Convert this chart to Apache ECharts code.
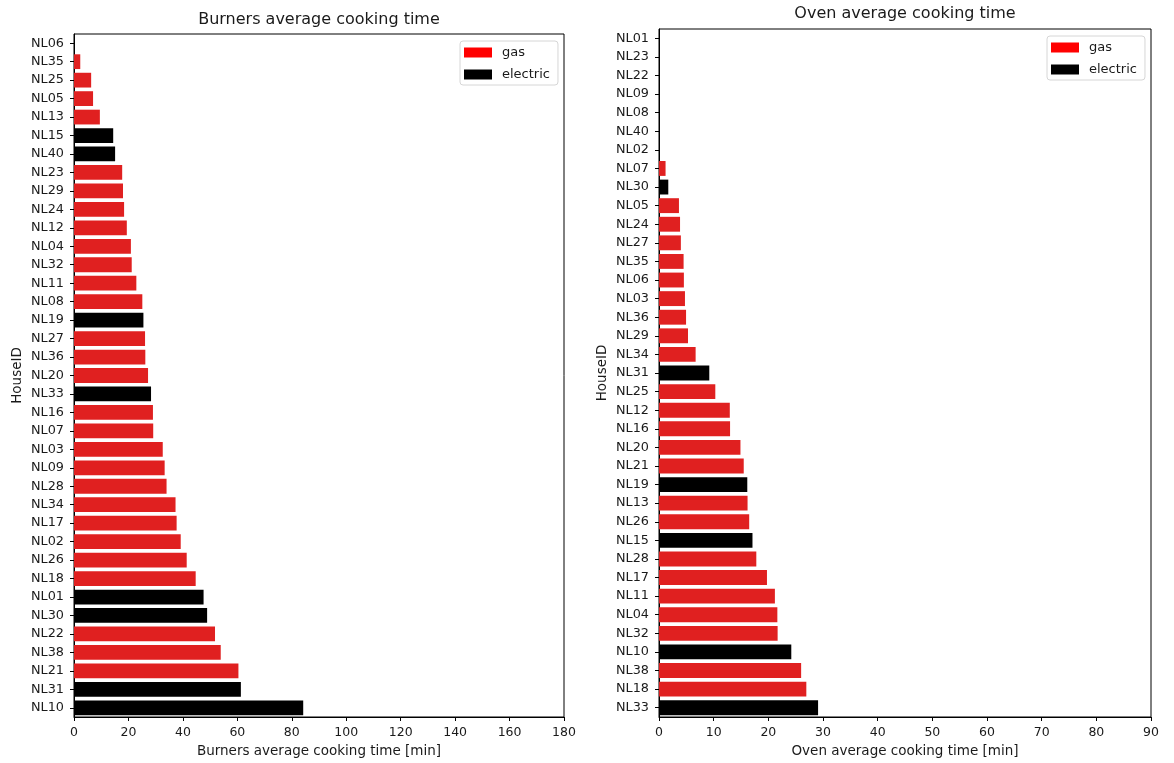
<!DOCTYPE html>
<html>
<head>
<meta charset="utf-8">
<title>Average cooking time per house</title>
<script src="https://cdn.jsdelivr.net/npm/echarts@6/dist/echarts.min.js"></script>
<style>
  html, body { margin: 0; padding: 0; background: #fff; }
  #chart { width: 1174px; height: 763px; }
</style>
</head>
<body>
<div id="chart"></div>
<script>
// Houses with an electric stove; every other house cooks on gas.
const electricHouses = ['NL01', 'NL10', 'NL15', 'NL19', 'NL30', 'NL31', 'NL33', 'NL40'];

// Burners: houses in display order (top to bottom) and average time in minutes.
const burnerHouses = ['NL06', 'NL35', 'NL25', 'NL05', 'NL13', 'NL15', 'NL40', 'NL23', 'NL29', 'NL24',
  'NL12', 'NL04', 'NL32', 'NL11', 'NL08', 'NL19', 'NL27', 'NL36', 'NL20', 'NL33', 'NL16', 'NL07',
  'NL03', 'NL09', 'NL28', 'NL34', 'NL17', 'NL02', 'NL26', 'NL18', 'NL01', 'NL30', 'NL22', 'NL38',
  'NL21', 'NL31', 'NL10'];
const burnerMinutes = [0, 2.3, 6.3, 7.0, 9.5, 14.4, 15.1, 17.7, 18.0, 18.4,
  19.4, 20.9, 21.2, 22.9, 25.1, 25.5, 26.1, 26.2, 27.2, 28.3, 29.0, 29.1,
  32.6, 33.3, 34.0, 37.3, 37.7, 39.2, 41.4, 44.7, 47.6, 48.9, 51.8, 53.9,
  60.4, 61.3, 84.2];

// Oven: houses in display order (top to bottom) and average time in minutes.
const ovenHouses = ['NL01', 'NL23', 'NL22', 'NL09', 'NL08', 'NL40', 'NL02', 'NL07', 'NL30', 'NL05',
  'NL24', 'NL27', 'NL35', 'NL06', 'NL03', 'NL36', 'NL29', 'NL34', 'NL31', 'NL25', 'NL12', 'NL16',
  'NL20', 'NL21', 'NL19', 'NL13', 'NL26', 'NL15', 'NL28', 'NL17', 'NL11', 'NL04', 'NL32', 'NL10',
  'NL38', 'NL18', 'NL33'];
const ovenMinutes = [0, 0, 0, 0, 0, 0, 0, 1.2, 1.7, 3.65,
  3.85, 4.0, 4.5, 4.55, 4.75, 4.95, 5.3, 6.7, 9.2, 10.3, 12.95, 13.0,
  14.9, 15.5, 16.15, 16.2, 16.5, 17.1, 17.8, 19.75, 21.2, 21.65, 21.7, 24.2,
  26.0, 26.95, 29.1];

const burnerTicks = { min: 0, max: 180, interval: 20 };
const ovenTicks = { min: 0, max: 90, interval: 10 };

const GAS_BAR = '#e02020';
const GAS_KEY = '#ff0000';
const ELECTRIC = '#000000';
const FONT = 'DejaVu Sans';
const INK = '#1a1a1a';

// Split one panel's values into a gas and an electric series (the other stays empty).
function splitByType(houses, minutes, type) {
  return houses.map((h, i) => {
    const isElectric = electricHouses.includes(h);
    return (type === 'electric') === isElectric ? minutes[i] : '-';
  });
}

function valueAxis(idx, ticks, name) {
  return {
    type: 'value', gridIndex: idx,
    min: ticks.min, max: ticks.max, interval: ticks.interval,
    name: name, nameLocation: 'middle', nameGap: 27,
    nameTextStyle: { fontFamily: FONT, fontSize: 13.5, color: INK },
    axisLine: { show: true, lineStyle: { color: '#000', width: 1 } },
    axisTick: { show: true, length: 4, lineStyle: { color: '#000' } },
    axisLabel: { fontFamily: FONT, fontSize: 12.5, color: INK, margin: 9 },
    splitLine: { show: false }
  };
}

function categoryAxis(idx, houses) {
  return {
    type: 'category', gridIndex: idx, data: houses, inverse: true,
    name: 'HouseID', nameLocation: 'middle', nameGap: 50,
    nameTextStyle: { fontFamily: FONT, fontSize: 13.5, color: INK },
    axisLine: { show: true, lineStyle: { color: '#000', width: 1 } },
    axisTick: { show: true, length: 4, alignWithLabel: true, lineStyle: { color: '#000' } },
    axisLabel: { fontFamily: FONT, fontSize: 12.8, color: INK, margin: 10, interval: 0 }
  };
}

function barSeries(idx, name, data, color) {
  return {
    type: 'bar', name: name, xAxisIndex: idx, yAxisIndex: idx,
    data: data, barWidth: '80%', barGap: '-100%',
    itemStyle: { color: color }, emphasis: { disabled: true }
  };
}

function legendFor(left, top) {
  return {
    orient: 'vertical', left: left, top: top,
    padding: [5, 8, 4, 4], itemGap: 9, itemWidth: 28, itemHeight: 10,
    borderColor: '#d6d6d6', borderWidth: 1, borderRadius: 3,
    backgroundColor: '#fff',
    textStyle: { fontFamily: FONT, fontSize: 13, color: INK, padding: [0, 0, 0, 5] },
    data: [
      { name: 'gas', icon: 'rect', itemStyle: { color: GAS_KEY } },
      { name: 'electric', icon: 'rect', itemStyle: { color: ELECTRIC } }
    ]
  };
}

const chart = echarts.init(document.getElementById('chart'), null, { renderer: 'canvas' });

chart.setOption({
  animation: false,
  backgroundColor: '#fff',
  title: [
    { text: 'Burners average cooking time', left: 319, top: 12, padding: 0, textAlign: 'center',
      textStyle: { fontFamily: FONT, fontSize: 16, fontWeight: 'normal', color: INK } },
    { text: 'Oven average cooking time', left: 905, top: 6, padding: 0, textAlign: 'center',
      textStyle: { fontFamily: FONT, fontSize: 16, fontWeight: 'normal', color: INK } }
  ],
  legend: [legendFor(460, 41), legendFor(1047, 36)],
  grid: [
    { left: 74, right: 610, top: 34, bottom: 45, show: true, borderColor: '#000', borderWidth: 1, containLabel: false },
    { left: 659, right: 23, top: 29, bottom: 45, show: true, borderColor: '#000', borderWidth: 1, containLabel: false }
  ],
  xAxis: [
    valueAxis(0, burnerTicks, 'Burners average cooking time [min]'),
    valueAxis(1, ovenTicks, 'Oven average cooking time [min]')
  ],
  yAxis: [categoryAxis(0, burnerHouses), categoryAxis(1, ovenHouses)],
  series: [
    barSeries(0, 'gas', splitByType(burnerHouses, burnerMinutes, 'gas'), GAS_BAR),
    barSeries(0, 'electric', splitByType(burnerHouses, burnerMinutes, 'electric'), ELECTRIC),
    barSeries(1, 'gas', splitByType(ovenHouses, ovenMinutes, 'gas'), GAS_BAR),
    barSeries(1, 'electric', splitByType(ovenHouses, ovenMinutes, 'electric'), ELECTRIC)
  ]
});
</script>
</body>
</html>
